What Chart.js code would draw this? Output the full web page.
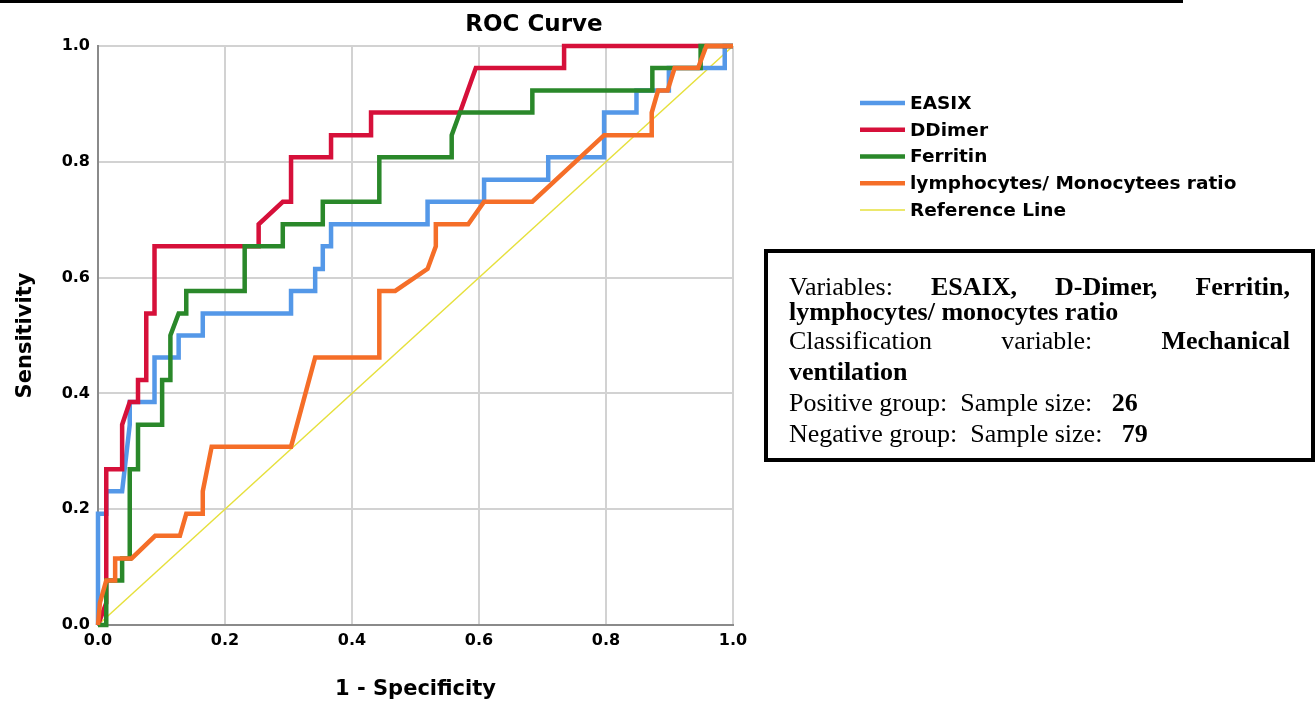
<!DOCTYPE html>
<html>
<head>
<meta charset="utf-8">
<script src="https://cdn.jsdelivr.net/npm/chart.js@4.4.1/dist/chart.umd.min.js"></script>
<style>
  html, body { margin: 0; padding: 0; background: #fff; }
  #wrap { position: relative; width: 1316px; height: 702px; overflow: hidden; }
  #topbar { position: absolute; left: 0; top: 0; width: 1183px; height: 3px; background: #000; }
  #box {
    position: absolute; left: 764px; top: 249px; width: 551px; height: 213px;
    box-sizing: border-box; border: 4px solid #000; padding: 18px 21px 0 21px;
    font-family: "Liberation Serif", "Times New Roman", serif; font-size: 26px; color: #000;
  }
  #box .ln { height: 31px; line-height: 31px; white-space: pre; }
  #box .j { text-align: justify; text-align-last: justify; white-space: normal; }
  #box b { font-weight: bold; }
</style>
</head>
<body>
<div id="wrap">
  <div id="topbar"></div>
  <canvas id="myChart" width="1316" height="702"></canvas>
  <div id="box">
    <div class="ln j">Variables: <b>ESAIX, D-Dimer, Ferritin,</b></div>
    <div class="ln" style="margin-top:-6px"><b>lymphocytes/ monocytes ratio</b></div>
    <div class="ln j" style="margin-top:-2px">Classification variable: <b>Mechanical</b></div>
    <div class="ln"><b>ventilation</b></div>
    <div class="ln">Positive group:  Sample size:   <b>26</b></div>
    <div class="ln">Negative group:  Sample size:   <b>79</b></div>
  </div>
</div>
<script>
const ctx = document.getElementById('myChart').getContext('2d');

/*** data: [1 - specificity, sensitivity] ***/
const labels = ['EASIX', 'DDimer', 'Ferritin', 'lymphocytes/ Monocytees ratio', 'Reference Line'];
const colors = ['rgb(84,152,232)', 'rgb(214,16,58)', 'rgb(42,136,42)', 'rgb(245,110,40)', 'rgb(230,224,60)'];

const easix = [
    [0,0],[0,0.192],[0.013,0.192],[0.013,0.231],[0.038,0.231],[0.05,0.346],[0.05,0.385],
    [0.089,0.385],[0.089,0.462],[0.127,0.462],[0.127,0.5],[0.165,0.5],[0.165,0.538],
    [0.304,0.538],[0.304,0.577],[0.342,0.577],[0.342,0.615],[0.354,0.615],[0.354,0.654],
    [0.367,0.654],[0.367,0.692],[0.519,0.692],[0.519,0.731],[0.608,0.731],[0.608,0.769],
    [0.709,0.769],[0.709,0.808],[0.797,0.808],[0.797,0.885],[0.848,0.885],[0.848,0.923],
    [0.899,0.923],[0.899,0.962],[0.987,0.962],[0.987,1],[1,1]
];
const ddimer = [
    [0,0],[0.013,0.038],[0.013,0.269],[0.038,0.269],[0.038,0.346],[0.05,0.385],[0.063,0.385],
    [0.063,0.423],[0.076,0.423],[0.076,0.538],[0.089,0.538],[0.089,0.654],[0.253,0.654],
    [0.253,0.692],[0.291,0.731],[0.304,0.731],[0.304,0.808],[0.367,0.808],[0.367,0.846],
    [0.43,0.846],[0.43,0.885],[0.57,0.885],[0.595,0.962],[0.734,0.962],[0.734,1],[1,1]
];
const ferritin = [
    [0,0],[0.013,0],[0.013,0.077],[0.038,0.077],[0.038,0.115],[0.05,0.115],[0.05,0.269],
    [0.063,0.269],[0.063,0.346],[0.101,0.346],[0.101,0.423],[0.114,0.423],[0.114,0.5],
    [0.127,0.538],[0.139,0.538],[0.139,0.577],[0.231,0.577],[0.231,0.654],[0.291,0.654],
    [0.291,0.692],[0.354,0.692],[0.354,0.731],[0.443,0.731],[0.443,0.808],[0.557,0.808],
    [0.557,0.846],[0.57,0.885],[0.684,0.885],[0.684,0.923],[0.873,0.923],[0.873,0.962],
    [0.949,0.962],[0.949,1],[1,1]
];
const lymphMono = [
    [0,0],[0.003,0.038],[0.013,0.077],[0.027,0.077],[0.027,0.115],[0.053,0.115],[0.09,0.154],
    [0.129,0.154],[0.139,0.192],[0.165,0.192],[0.165,0.231],[0.179,0.308],[0.304,0.308],
    [0.342,0.462],[0.443,0.462],[0.443,0.577],[0.468,0.577],[0.519,0.615],[0.532,0.654],
    [0.532,0.692],[0.583,0.692],[0.608,0.731],[0.684,0.731],[0.797,0.846],[0.872,0.846],
    [0.872,0.885],[0.882,0.923],[0.897,0.923],[0.908,0.962],[0.945,0.962],[0.958,1],[1,1]
];
const refLine = [[0,0],[1,1]];
const axisTicks = [0, 0.2, 0.4, 0.6, 0.8, 1.0];
/*************/

const series = [easix, ddimer, ferritin, lymphMono, refLine];
const drawOrder = [4, 3, 2, 1, 5];   // lower is drawn on top

function toPoints(arr) {
    return arr.map(function(p) { return {x: p[0], y: p[1]}; });
}

// title + legend drawn on the canvas
const extras = {
    id: 'extras',
    afterDraw(chart) {
        const c = chart.ctx;
        c.save();
        c.fillStyle = '#000';
        c.font = 'bold 23px "DejaVu Sans"';
        c.textAlign = 'center';
        c.textBaseline = 'middle';
        c.fillText('ROC Curve', 534, 25);

        c.font = 'bold 18.5px "DejaVu Sans"';
        c.textAlign = 'left';
        chart.data.datasets.forEach(function(ds, i) {
            const y = 103 + i * 26.75;
            c.strokeStyle = ds.borderColor;
            c.lineWidth = ds.borderWidth;
            c.beginPath();
            c.moveTo(860, y);
            c.lineTo(905, y);
            c.stroke();
            c.fillText(ds.label, 910, y + 1);
        });
        c.restore();
    }
};

const data = {
    datasets: series.map(function(s, i) {
        return {
            label: labels[i],
            data: toPoints(s),
            showLine: true,
            borderColor: colors[i],
            backgroundColor: colors[i],
            borderWidth: i === 4 ? 1.5 : 4.5,
            pointRadius: 0,
            tension: 0,
            clip: 4,
            order: drawOrder[i]
        };
    })
};

const tickFont = {family: 'DejaVu Sans', size: 16, weight: 'bold'};
const titleFont = {family: 'DejaVu Sans', size: 21, weight: 'bold'};

const config = {
    type: 'scatter',
    data,
    options: {
        responsive: false,
        animation: false,
        layout: { padding: {left: 0, top: 46, right: 583, bottom: 0} },
        plugins: {
            legend: { display: false },
            tooltip: { enabled: false }
        },
        scales: {
            x: {
                type: 'linear', min: 0, max: 1,
                afterFit: function(s) { s.height = 77; },
                afterBuildTicks: function(s) { s.ticks = axisTicks.map(function(v) { return {value: v}; }); },
                ticks: { color: '#000', font: tickFont, padding: 6,
                         callback: function(v) { return Number(v).toFixed(1); } },
                grid: { color: '#d2d2d2', lineWidth: 2, drawTicks: false },
                border: { color: '#8a8a8a', width: 2 },
                title: { display: true, text: '1 - Specificity', color: '#000', font: titleFont,
                         padding: {top: 0, bottom: 0} }
            },
            y: {
                type: 'linear', min: 0, max: 1,
                afterFit: function(s) { s.width = 98; },
                afterBuildTicks: function(s) { s.ticks = axisTicks.map(function(v) { return {value: v}; }); },
                ticks: { color: '#000', font: tickFont, padding: 8,
                         callback: function(v) { return Number(v).toFixed(1); } },
                grid: { color: '#d2d2d2', lineWidth: 2, drawTicks: false },
                border: { color: '#8a8a8a', width: 2 },
                title: { display: true, text: 'Sensitivity', color: '#000', font: titleFont,
                         padding: {top: 13, bottom: 0} }
            }
        }
    },
    plugins: [extras]
};

const myChart = new Chart(ctx, config);
</script>
</body>
</html>
